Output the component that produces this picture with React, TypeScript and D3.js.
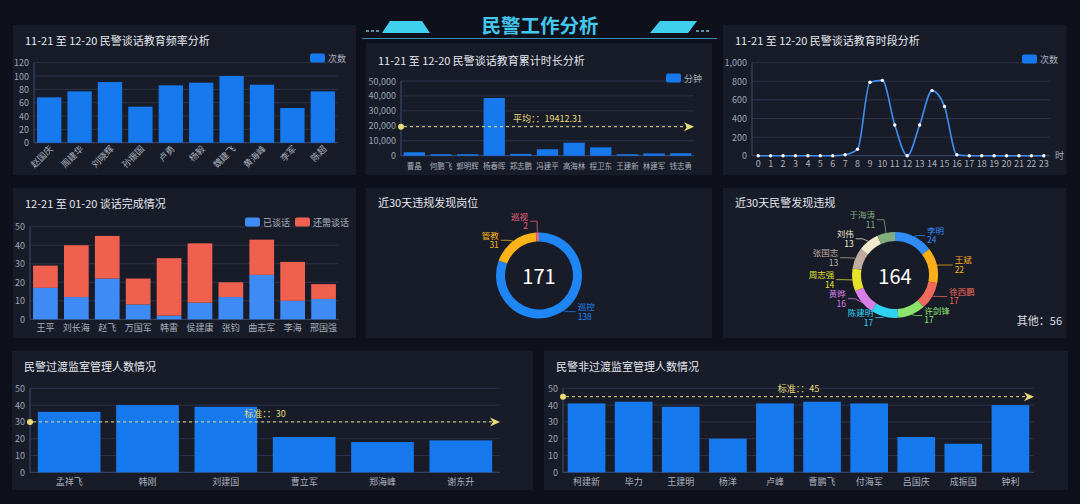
import React from 'react';
import * as d3 from 'd3';

const W = 1080;
const H = 504;
const FONT = "'Noto Sans CJK SC','Noto Sans',sans-serif";
const BG = '#0e111b';
const PANEL = '#181c29';
const GRID = '#2a3348';
const AXIS = '#3a4c74';
const TICK = '#9ca4b4';
const XLAB = '#aab0bc';
const TITLE = '#e4e7ee';
const BAR = '#1779ee';
const MARK = '#e9dc7a';

// ---------- data ----------
const freqNames = ['赵国庆', '周建华', '刘晓辉', '孙振国', '卢勇', '杨毅', '魏建飞', '黄海峰', '李军', '陈超'];
const freqValues = [68, 77, 91, 54, 86, 90, 100, 87, 52, 77];
const freqTicks = [0, 20, 40, 60, 80, 100, 120];

const durNames = ['曹晶', '何鹏飞', '郭明辉', '杨春晖', '郑志鹏', '冯建平', '高海林', '程卫东', '王建新', '林建军', '钱志勇'];
const durValues = [2300, 1000, 1000, 38600, 1200, 4300, 8700, 5600, 1000, 1500, 1600];
const durTicks = [0, 10000, 20000, 30000, 40000, 50000];
const durAverage = 19412.31;

const hourLabels = ['0', '1', '2', '3', '4', '5', '6', '7', '8', '9', '10', '11', '12', '13', '14', '15', '16', '17', '18', '19', '20', '21', '22', '23'];
const hourValues = [0, 0, 0, 0, 0, 0, 0, 10, 70, 790, 810, 330, 0, 330, 700, 530, 10, 0, 0, 0, 0, 0, 0, 0];
const hourTicks = [0, 200, 400, 600, 800, 1000];

const doneNames = ['王平', '刘长海', '赵飞', '万国军', '韩雷', '侯建康', '张钧', '曲志军', '李海', '邢国强'];
const doneTalked = [17, 12, 22, 8, 2, 9, 12, 24, 10, 11];
const doneRemaining = [12, 28, 23, 14, 31, 32, 8, 19, 21, 8];
const doneTicks = [0, 10, 20, 30, 40, 50];

const postNames = ['巡控', '管教', '巡视'];
const postValues = [138, 31, 2];
const postColors = ['#1e86f5', '#fbb317', '#e2667c'];

const officerNames = ['李明', '王斌', '徐西鹏', '许剑锋', '陈建明', '黄晔', '周志强', '张国志', '刘伟', '于海涛'];
const officerValues = [24, 22, 17, 17, 17, 16, 14, 13, 13, 11];
const officerColors = ['#2f8df5', '#fbae17', '#f26a5b', '#8be36b', '#30d2f2', '#d77fe6', '#e5e228', '#c1ada0', '#f1e9cd', '#83ad7c'];
const otherCount = 56;

const transNames = ['孟祥飞', '韩刚', '刘建国', '曹立军', '郑海峰', '谢东升'];
const transValues = [36, 40, 39, 21, 18, 19];
const transStandard = 30;

const nonTransNames = ['柯建新', '毕力', '王建明', '杨洋', '卢峰', '曹鹏飞', '付海军', '吕国庆', '成振国', '钟利'];
const nonTransValues = [41, 42, 39, 20, 41, 42, 41, 21, 17, 40];
const nonTransStandard = 45;
const panelTicks = [0, 10, 20, 30, 40, 50];

const fmtComma = d3.format(',');

// ---------- pieces ----------
function Panel({ x, y, w, h, title, ty }: { x: number; y: number; w: number; h: number; title: string; ty: number }) {
  return (
    <g>
      <rect x={x} y={y} width={w} height={h} fill={PANEL} />
      <text x={x + 12} y={ty} fill={TITLE} fontSize={11} dominantBaseline="central">{title}</text>
    </g>
  );
}

function Legend({ items }: { items: { x: number; y: number; label: string; color: string }[] }) {
  return (
    <g>
      {items.map((it, i) => (
        <g key={i}>
          <rect x={it.x} y={it.y - 4.5} width={15} height={9} rx={2} fill={it.color} />
          <text x={it.x + 18} y={it.y} fill={XLAB} fontSize={9} dominantBaseline="central">{it.label}</text>
        </g>
      ))}
    </g>
  );
}

function YGrid({ y, ticks, x0, x1, fmt }: { y: d3.ScaleLinear<number, number>; ticks: number[]; x0: number; x1: number; fmt?: (n: number) => string }) {
  return (
    <g>
      {ticks.map((t) => (
        <g key={t}>
          {t !== 0 && <line x1={x0} x2={x1} y1={y(t)} y2={y(t)} stroke={GRID} strokeWidth={1} />}
          <text x={x0 - 5} y={y(t)} fill={TICK} fontSize={9} textAnchor="end" dominantBaseline="central">
            {fmt ? fmt(t) : String(t)}
          </text>
        </g>
      ))}
      <line x1={x0} x2={x0} y1={y(ticks[ticks.length - 1])} y2={y(0)} stroke={AXIS} strokeWidth={1} />
      <line x1={x0} x2={x1} y1={y(0)} y2={y(0)} stroke={AXIS} strokeWidth={1} />
    </g>
  );
}

function MarkLine({ x0, x1, yv, label }: { x0: number; x1: number; yv: number; label: string }) {
  return (
    <g>
      <line x1={x0 + 3} x2={x1 - 6} y1={yv} y2={yv} stroke={MARK} strokeWidth={1} strokeDasharray="3,3" />
      <circle cx={x0} cy={yv} r={3} fill={MARK} />
      <path d={`M${x1 - 10},${yv - 4.5} L${x1},${yv} L${x1 - 10},${yv + 4.5} L${x1 - 7},${yv} Z`} fill={MARK} />
      <text x={(x0 + x1) / 2} y={yv - 8} fill={MARK} fontSize={9} textAnchor="middle" dominantBaseline="central">{label}</text>
    </g>
  );
}

function BarChart(p: {
  names: string[]; values: number[]; x0: number; x1: number; yb: number; yt: number; ticks: number[];
  fmt?: (n: number) => string; labelY: number; rotate?: boolean; mark?: number; markLabel?: string; labelSize?: number;
}) {
  const x = d3.scaleBand<string>().domain(p.names).range([p.x0, p.x1]).paddingInner(0.2).paddingOuter(0.1);
  const y = d3.scaleLinear().domain([0, p.ticks[p.ticks.length - 1]]).range([p.yb, p.yt]);
  const fs = p.labelSize || 9;
  return (
    <g>
      <YGrid y={y} ticks={p.ticks} x0={p.x0} x1={p.x1} fmt={p.fmt} />
      {p.names.map((n, i) => (
        <rect key={n} x={x(n)} y={y(p.values[i])} width={x.bandwidth()} height={y(0) - y(p.values[i])} fill={BAR} />
      ))}
      {p.names.map((n) => {
        const cx = (x(n) as number) + x.bandwidth() / 2;
        return p.rotate ? (
          <text key={n} x={cx + 2} y={p.labelY} fill={XLAB} fontSize={fs} textAnchor="end" dominantBaseline="central"
            transform={`rotate(-45 ${cx + 2} ${p.labelY})`}>{n}</text>
        ) : (
          <text key={n} x={cx} y={p.labelY} fill={XLAB} fontSize={fs} textAnchor="middle" dominantBaseline="central">{n}</text>
        );
      })}
      {p.mark !== undefined && <MarkLine x0={p.x0} x1={p.x1} yv={y(p.mark)} label={p.markLabel || ''} />}
    </g>
  );
}

function StackChart() {
  const x0 = 30, x1 = 339, yb = 319.3, yt = 226.7;
  const x = d3.scaleBand<string>().domain(doneNames).range([x0, x1]).paddingInner(0.2).paddingOuter(0.1);
  const y = d3.scaleLinear().domain([0, 50]).range([yb, yt]);
  return (
    <g>
      <YGrid y={y} ticks={doneTicks} x0={x0} x1={x1} />
      {doneNames.map((n, i) => {
        const a = doneTalked[i];
        const b = doneRemaining[i];
        return (
          <g key={n}>
            <rect x={x(n)} y={y(a)} width={x.bandwidth()} height={y(0) - y(a)} fill="#3f8bf5" />
            <rect x={x(n)} y={y(a + b)} width={x.bandwidth()} height={y(a) - y(a + b)} fill="#f0604f" />
            <text x={(x(n) as number) + x.bandwidth() / 2} y={327} fill={XLAB} fontSize={9} textAnchor="middle" dominantBaseline="central">{n}</text>
          </g>
        );
      })}
      <Legend items={[{ x: 245, y: 222, label: '已谈话', color: '#3f8bf5' }, { x: 295, y: 222, label: '还需谈话', color: '#f0604f' }]} />
    </g>
  );
}

function LineChart() {
  const x0 = 752, x1 = 1050, yb = 155.7, yt = 62.7;
  const x = d3.scaleBand<string>().domain(hourLabels).range([x0, x1]);
  const y = d3.scaleLinear().domain([0, 1000]).range([yb, yt]);
  const pts: [number, number][] = hourLabels.map((h, i) => [(x(h) as number) + x.bandwidth() / 2, y(hourValues[i])]);
  const path = d3.line().curve(d3.curveMonotoneX)(pts) || '';
  return (
    <g>
      <YGrid y={y} ticks={hourTicks} x0={x0} x1={x1} fmt={fmtComma} />
      <path d={path} fill="none" stroke="#3d8ef2" strokeWidth={1.6} />
      {pts.map((p, i) => (
        <circle key={i} cx={p[0]} cy={p[1]} r={1.7} fill="#ffffff" />
      ))}
      {hourLabels.map((h) => (
        <text key={h} x={(x(h) as number) + x.bandwidth() / 2} y={163.5} fill={XLAB} fontSize={9} textAnchor="middle" dominantBaseline="central">{h}</text>
      ))}
      <text x={1055} y={155} fill={XLAB} fontSize={9} dominantBaseline="central">时</text>
      <Legend items={[{ x: 1022, y: 59, label: '次数', color: BAR }]} />
    </g>
  );
}

function Donut({ names, values, colors, cx, cy, center }: { names: string[]; values: number[]; colors: string[]; cx: number; cy: number; center: string }) {
  const rOut = 43, rIn = 34;
  const pie = d3.pie<number>().sort(null).value((d) => d)(values);
  const arc = d3.arc<d3.PieArcDatum<number>>().innerRadius(rIn).outerRadius(rOut);
  const labels = pie.map((p, i) => {
    const a = (p.startAngle + p.endAngle) / 2;
    const s = Math.sin(a), c = Math.cos(a);
    return { i, s, px: cx + rOut * s, py: cy - rOut * c, lx: cx + (rOut + 9) * s, ly: cy - (rOut + 1) * c, right: s >= 0 };
  });
  // spread labels on each side so they do not overlap (pass from the bottom up)
  const GAP = 19;
  [true, false].forEach((side) => {
    const group = labels.filter((l) => l.right === side).sort((a, b) => b.ly - a.ly);
    for (let k = 1; k < group.length; k++) {
      if (group[k - 1].ly - group[k].ly < GAP) group[k].ly = group[k - 1].ly - GAP;
    }
  });
  return (
    <g>
      {pie.map((p, i) => (
        <path key={i} d={arc(p) || ''} transform={`translate(${cx},${cy})`} fill={colors[i]} />
      ))}
      {labels.map((l) => {
        const ex = l.lx + (l.right ? 7 : -7);
        const tx = ex + (l.right ? 2 : -2);
        const col = colors[l.i];
        return (
          <g key={l.i}>
            <polyline points={`${l.px},${l.py} ${l.lx},${l.ly} ${ex},${l.ly}`} fill="none" stroke={col} strokeOpacity={0.75} strokeWidth={1} />
            <text x={tx} y={l.ly - 1.6} fill={col} fontSize={8.5} textAnchor={l.right ? 'start' : 'end'}>
              <tspan x={tx}>{names[l.i]}</tspan>
              <tspan x={tx} dy={9.5}>{values[l.i]}</tspan>
            </text>
          </g>
        );
      })}
      <text x={cx} y={cy} fill="#ffffff" fontSize={20} textAnchor="middle" dominantBaseline="central">{center}</text>
    </g>
  );
}

function Header() {
  return (
    <g>
      <polygon points="390,21 422,21 430,33 382,33" fill="#3fd0ee" />
      <polygon points="660,21 697,21 688,33 650,33" fill="#3fd0ee" />
      {[0, 1, 2].map((k) => (
        <rect key={'l' + k} x={366 + k * 5} y={30} width={3} height={2} fill="#5a8fa3" />
      ))}
      {[0, 1, 2].map((k) => (
        <rect key={'r' + k} x={696 + k * 5} y={30} width={3} height={2} fill="#5a8fa3" />
      ))}
      <line x1={362} x2={717} y1={38.5} y2={38.5} stroke="#3a8fb0" strokeWidth={1.2} />
      <text x={540} y={24} fill="#42c8ee" fontSize={19.5} fontWeight="bold" textAnchor="middle" dominantBaseline="central">民警工作分析</text>
    </g>
  );
}

export default function App() {
  return (
    <div style={{ position: 'absolute', left: 0, top: 0, width: W, height: H, background: BG }}>
      <svg width={W} height={H} style={{ display: 'block' }} fontFamily={FONT}>
        <rect width={W} height={H} fill={BG} />
        <Header />

        <Panel x={13} y={25} w={343} h={150} title="11-21 至 12-20 民警谈话教育频率分析" ty={40} />
        <BarChart names={freqNames} values={freqValues} x0={34} x1={338} yb={142.7} yt={62.7} ticks={freqTicks} labelY={147} rotate />
        <Legend items={[{ x: 310, y: 58, label: '次数', color: BAR }]} />

        <Panel x={366} y={43} w={346} h={132} title="11-21 至 12-20 民警谈话教育累计时长分析" ty={59.5} />
        <BarChart names={durNames} values={durValues} x0={401} x1={694} yb={155.7} yt={81} ticks={durTicks} fmt={fmtComma}
          labelY={165} mark={durAverage} markLabel={`平均：：${durAverage}`} labelSize={7.5} />
        <Legend items={[{ x: 666, y: 78, label: '分钟', color: BAR }]} />

        <Panel x={723} y={25} w={343} h={150} title="11-21 至 12-20 民警谈话教育时段分析" ty={40} />
        <LineChart />

        <Panel x={13} y={188} w={343} h={150} title="12-21 至 01-20 谈话完成情况" ty={202.5} />
        <StackChart />

        <Panel x={366} y={188} w={346} h={150} title="近30天违规发现岗位" ty={202} />
        <Donut names={postNames} values={postValues} colors={postColors} cx={539} cy={275.5} center={String(d3.sum(postValues))} />

        <Panel x={723} y={188} w={343} h={150} title="近30天民警发现违规" ty={202} />
        <Donut names={officerNames} values={officerValues} colors={officerColors} cx={895} cy={275} center={String(d3.sum(officerValues))} />
        <text x={1062} y={320} fill="#d8dce4" fontSize={11} textAnchor="end" dominantBaseline="central">{`其他：${otherCount}`}</text>

        <Panel x={12} y={351} w={521} h={139} title="民警过渡监室管理人数情况" ty={366} />
        <BarChart names={transNames} values={transValues} x0={30} x1={500} yb={472.3} yt={388.3} ticks={panelTicks}
          labelY={481} mark={transStandard} markLabel={`标准：：${transStandard}`} />

        <Panel x={544} y={351} w={524} h={139} title="民警非过渡监室管理人数情况" ty={366} />
        <BarChart names={nonTransNames} values={nonTransValues} x0={563} x1={1034} yb={472.3} yt={388.3} ticks={panelTicks}
          labelY={481} mark={nonTransStandard} markLabel={`标准：：${nonTransStandard}`} />
      </svg>
    </div>
  );
}
